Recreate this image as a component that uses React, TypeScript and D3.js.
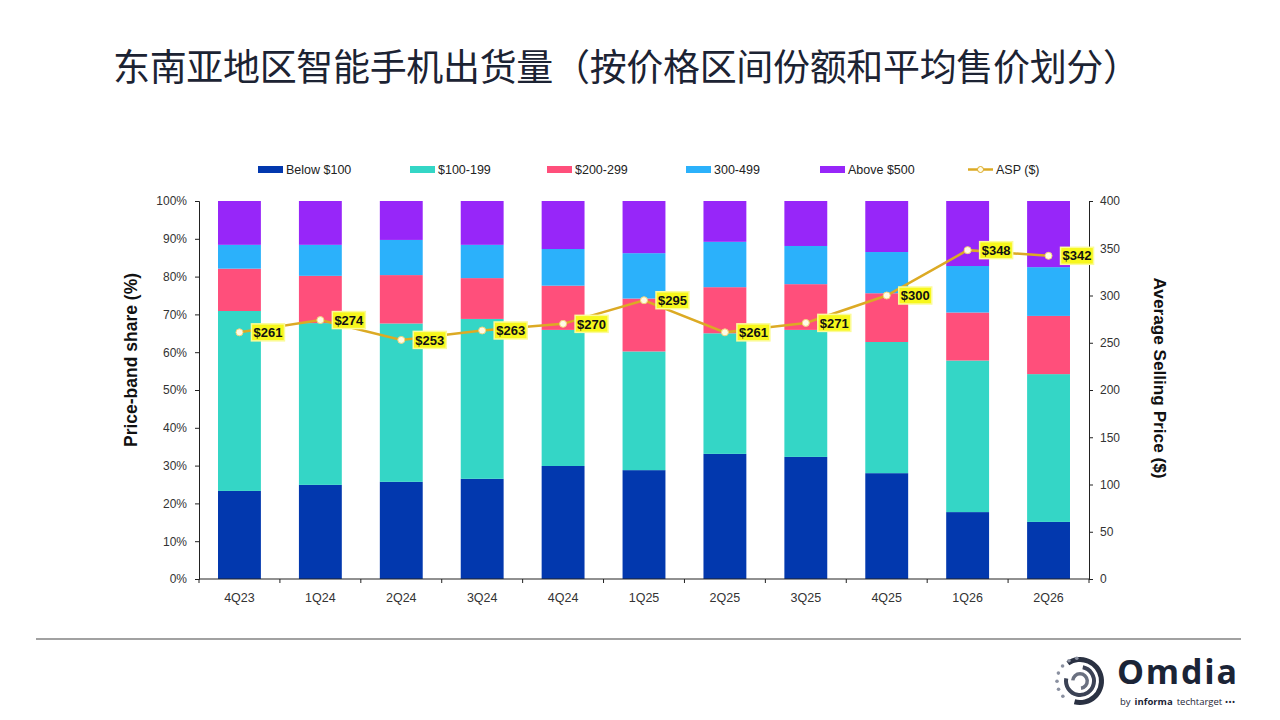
import React, { useEffect, useRef } from 'react';
import * as d3 from 'd3';

const quarters = ['4Q23', '1Q24', '2Q24', '3Q24', '4Q24', '1Q25', '2Q25', '3Q25', '4Q25', '1Q26', '2Q26'];

const below100 = [23.3, 24.9, 25.7, 26.5, 29.9, 28.8, 33.1, 32.3, 28.0, 17.7, 15.1];
const band100 = [47.6, 42.8, 41.9, 42.3, 36.0, 31.4, 31.9, 33.6, 34.7, 40.1, 39.1];
const band200 = [11.2, 12.5, 12.8, 10.8, 11.7, 14.0, 12.2, 12.1, 12.9, 12.7, 15.4];
const band300 = [6.3, 8.2, 9.3, 8.8, 9.7, 12.0, 12.0, 10.1, 10.9, 12.3, 12.9];
const above500 = [11.6, 11.6, 10.3, 11.6, 12.7, 13.8, 10.8, 11.9, 13.5, 17.2, 17.5];

const asp = [261, 274, 253, 263, 270, 295, 261, 271, 300, 348, 342];

const seriesNames = ['Below $100', '$100-199', '$200-299', '300-499', 'Above $500'];
const seriesColors = ['#0238ae', '#34d6c6', '#ff4f7b', '#2bb1fb', '#9726f9'];
const seriesValues = [below100, band100, band200, band300, above500];

const leftTicks = [0, 10, 20, 30, 40, 50, 60, 70, 80, 90, 100];
const rightTicks = [0, 50, 100, 150, 200, 250, 300, 350, 400];

const lineColor = '#dcaa24';
const font = 'Arial, "Liberation Sans", sans-serif';

export default function App() {
  const svgRef = useRef<SVGSVGElement>(null);

  useEffect(() => {
    const svg = d3.select(svgRef.current);
    svg.selectAll('*').remove();

    const margin = { top: 201, left: 199, right: 1089, bottom: 579 };

    const x = d3.scaleBand().domain(quarters).range([margin.left, margin.right]).paddingInner(0.47).paddingOuter(0.235);
    const xb = d3.scaleBand().domain(quarters).range([margin.left, margin.right]);
    const yL = d3.scaleLinear().domain([0, 100]).range([margin.bottom, margin.top]);
    const yR = d3.scaleLinear().domain([0, 400]).range([margin.bottom, margin.top]);

    // Title
    svg.append('text')
      .attr('x', 113)
      .attr('y', 81)
      .attr('textLength', 1027)
      .style('font-family', '"Noto Sans CJK SC", sans-serif')
      .style('font-size', '37px')
      .style('fill', '#1c2333')
      .text('东南亚地区智能手机出货量（按价格区间份额和平均售价划分）');

    // Stacked bars
    const rows = quarters.map((q, i) => {
      const row: any = { q };
      seriesNames.forEach((n, k) => { row[n] = seriesValues[k][i]; });
      return row;
    });
    const stack = d3.stack<any>().keys(seriesNames)(rows);

    stack.forEach((layer, k) => {
      svg.append('g')
        .selectAll('rect')
        .data(layer)
        .enter()
        .append('rect')
        .attr('x', d => x(d.data.q) as number)
        .attr('width', x.bandwidth())
        .attr('y', d => yL(Math.min(d[1], 100)))
        .attr('height', d => yL(d[0]) - yL(Math.min(d[1], 100)))
        .style('fill', seriesColors[k]);
    });

    // Left axis
    const left = svg.append('g')
      .attr('transform', `translate(${margin.left},0)`)
      .call(d3.axisLeft(yL).tickValues(leftTicks).tickSize(4).tickFormat(d => `${d}%`));
    left.select('.domain').style('stroke', '#222');
    left.selectAll('line').style('stroke', '#222');
    left.selectAll('text')
      .attr('x', -12)
      .style('font-family', font)
      .style('font-size', '12px')
      .style('fill', '#333');

    // Right axis
    const right = svg.append('g')
      .attr('transform', `translate(${margin.right},0)`)
      .call(d3.axisRight(yR).tickValues(rightTicks).tickSize(4));
    right.select('.domain').style('stroke', '#222');
    right.selectAll('line').style('stroke', '#222');
    right.selectAll('text')
      .attr('x', 11)
      .style('font-family', font)
      .style('font-size', '12px')
      .style('fill', '#333');

    // Bottom axis with ticks between categories
    svg.append('line')
      .attr('x1', margin.left).attr('x2', margin.right)
      .attr('y1', margin.bottom).attr('y2', margin.bottom)
      .style('stroke', '#222');
    svg.append('g')
      .selectAll('line')
      .data(quarters.concat(['end']))
      .enter()
      .append('line')
      .attr('x1', (d, i) => margin.left + i * xb.bandwidth())
      .attr('x2', (d, i) => margin.left + i * xb.bandwidth())
      .attr('y1', margin.bottom)
      .attr('y2', margin.bottom + 4)
      .style('stroke', '#222');
    svg.append('g')
      .selectAll('text')
      .data(quarters)
      .enter()
      .append('text')
      .attr('x', d => (xb(d) as number) + xb.bandwidth() / 2)
      .attr('y', 602)
      .attr('text-anchor', 'middle')
      .style('font-family', font)
      .style('font-size', '12.5px')
      .style('fill', '#333')
      .text(d => d);

    // Axis titles
    svg.append('text')
      .attr('transform', 'translate(137,360) rotate(-90)')
      .attr('text-anchor', 'middle')
      .style('font-family', font)
      .style('font-size', '17.5px')
      .style('font-weight', 'bold')
      .style('fill', '#111')
      .text('Price-band share (%)');
    svg.append('text')
      .attr('transform', 'translate(1154,378) rotate(90)')
      .attr('text-anchor', 'middle')
      .style('font-family', font)
      .style('font-size', '17.2px')
      .style('font-weight', 'bold')
      .style('fill', '#111')
      .text('Average Selling Price ($)');

    // ASP line
    const cx = (i: number) => (xb(quarters[i]) as number) + xb.bandwidth() / 2;
    const line = d3.line<number>()
      .x((d, i) => cx(i))
      .y(d => yR(d));

    svg.append('path')
      .datum(asp)
      .attr('d', line)
      .style('fill', 'none')
      .style('stroke', lineColor)
      .style('stroke-width', 2.5);

    svg.append('g')
      .selectAll('circle')
      .data(asp)
      .enter()
      .append('circle')
      .attr('cx', (d, i) => cx(i))
      .attr('cy', d => yR(d))
      .attr('r', 3.5)
      .style('fill', '#fffbe6')
      .style('stroke', '#f2d47a')
      .style('stroke-width', 1);

    // ASP labels
    const labels = svg.append('g')
      .selectAll('g')
      .data(asp)
      .enter()
      .append('g')
      .attr('transform', (d, i) => `translate(${cx(i) + 12},${yR(d)})`);
    labels.append('rect')
      .attr('x', 0)
      .attr('y', -8.5)
      .attr('width', 33)
      .attr('height', 17)
      .style('fill', '#f7f71c')
      .style('stroke', '#fbfb9a')
      .style('stroke-width', 1.5);
    labels.append('text')
      .attr('x', 16.5)
      .attr('y', 0)
      .attr('dy', '0.36em')
      .attr('text-anchor', 'middle')
      .style('font-family', font)
      .style('font-size', '13px')
      .style('font-weight', 'bold')
      .style('fill', '#111')
      .text(d => `$${d}`);

    // Legend
    const legendX = [258, 410, 547, 686, 820];
    const legend = svg.append('g');
    seriesNames.forEach((n, k) => {
      legend.append('rect')
        .attr('x', legendX[k])
        .attr('y', 166)
        .attr('width', 25)
        .attr('height', 7)
        .style('fill', seriesColors[k]);
      legend.append('text')
        .attr('x', legendX[k] + 28)
        .attr('y', 169.5)
        .attr('dy', '0.35em')
        .style('font-family', font)
        .style('font-size', '12.5px')
        .style('fill', '#222')
        .text(n);
    });
    legend.append('line')
      .attr('x1', 968).attr('x2', 993)
      .attr('y1', 169.5).attr('y2', 169.5)
      .style('stroke', lineColor)
      .style('stroke-width', 2.5);
    legend.append('circle')
      .attr('cx', 980.5).attr('cy', 169.5).attr('r', 3)
      .style('fill', '#fffbe6')
      .style('stroke', lineColor)
      .style('stroke-width', 1);
    legend.append('text')
      .attr('x', 996)
      .attr('y', 169.5)
      .attr('dy', '0.35em')
      .style('font-family', font)
      .style('font-size', '12.5px')
      .style('fill', '#222')
      .text('ASP ($)');

    // Footer rule
    svg.append('line')
      .attr('x1', 36).attr('x2', 1241)
      .attr('y1', 639).attr('y2', 639)
      .style('stroke', '#444')
      .style('stroke-width', 1.2);

    // Omdia logo
    const logo = svg.append('g').attr('transform', 'translate(1080,681)');
    const arc = d3.arc<any>();
    const rings = [
      { r0: 19, r1: 24, a0: -0.6, a1: 3.4, c: '#2a3142' },
      { r0: 12, r1: 16, a0: 0.2, a1: 4.9, c: '#3b4255' },
      { r0: 5.5, r1: 9, a0: -1.5, a1: 3.0, c: '#6a7080' }
    ];
    rings.forEach(r => {
      logo.append('path')
        .attr('d', arc({ innerRadius: r.r0, outerRadius: r.r1, startAngle: r.a0, endAngle: r.a1 }) as string)
        .style('fill', r.c);
    });
    d3.range(7).forEach(i => {
      const a = -2.3 + i * 0.36;
      logo.append('circle')
        .attr('cx', Math.sin(a) * 23)
        .attr('cy', -Math.cos(a) * 23)
        .attr('r', 1.8)
        .style('fill', '#8a90a0');
    });
    svg.append('text')
      .attr('x', 1117)
      .attr('y', 684)
      .attr('textLength', 120)
      .style('font-family', '"Open Sans", sans-serif')
      .style('font-size', '34px')
      .style('font-weight', 'bold')
      .style('fill', '#1b2436')
      .text('Omdia');

    // Sub-brand line, laid out word by word
    const subParts = [
      { t: 'by', w: 'normal' },
      { t: 'informa', w: 'bold' },
      { t: 'techtarget •••', w: 'normal' }
    ];
    let sx = 1120;
    subParts.forEach(p => {
      const node = svg.append('text')
        .attr('x', sx)
        .attr('y', 705)
        .style('font-family', '"Open Sans", sans-serif')
        .style('font-size', '9.5px')
        .style('font-weight', p.w)
        .style('fill', '#1b2436')
        .text(p.t);
      const len = (node.node() as SVGTextElement).getComputedTextLength();
      sx += len + 4;
    });
  }, []);

  return (
    <div style={{ position: 'fixed', left: 0, top: 0, width: 1280, height: 720, background: '#fff' }}>
      <svg ref={svgRef} width={1280} height={720} />
    </div>
  );
}
